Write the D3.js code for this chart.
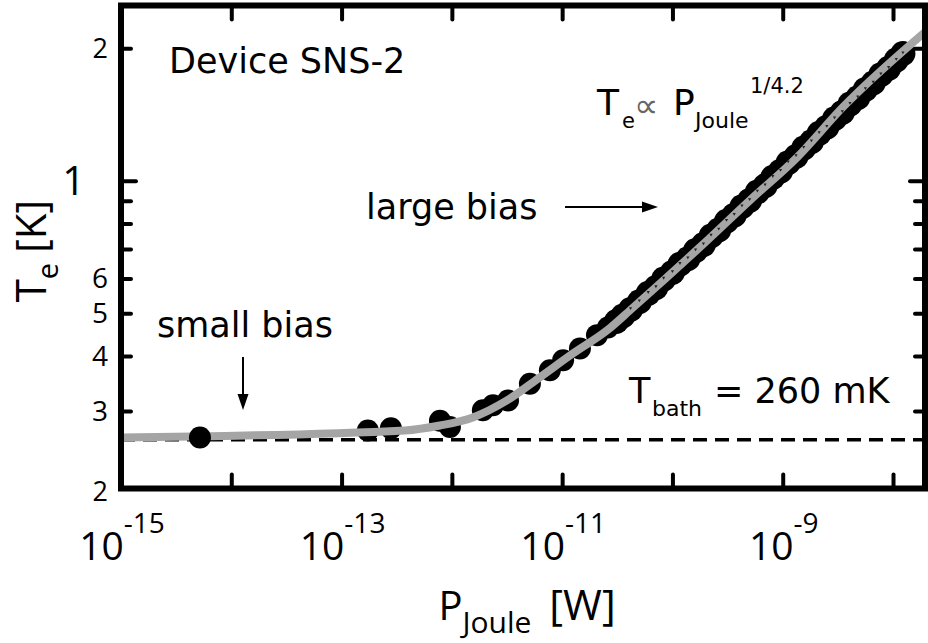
<!DOCTYPE html>
<html>
<head>
<meta charset="utf-8">
<script src="https://cdn.jsdelivr.net/npm/d3@7"></script>
<style>
  body { margin: 0; background: #fff; }
  svg { display: block; }
</style>
</head>
<body>
<div id="chart"></div>
<script>
const width = 928;
const height = 643;

// small bias point (drawn over the fit)
const lowP = [5.2e-15];
const lowT = [0.261];

// large bias points
const dataP = [1.73e-13, 2.8e-13, 7.8e-13, 9.6e-13, 1.91e-12, 2.36e-12, 3.23e-12, 5.1e-12,
  7.74e-12, 1.02e-11, 1.45e-11, 2.07e-11, 2.6e-11, 3.1e-11,
  3.55e-11, 4.17e-11, 5.01e-11, 6.03e-11, 7.08e-11, 8.32e-11, 1.0e-10, 1.17e-10, 1.38e-10,
  1.62e-10, 1.91e-10, 2.24e-10, 2.63e-10, 3.09e-10, 3.63e-10, 4.27e-10, 5.01e-10, 5.89e-10,
  6.92e-10, 8.13e-10, 9.55e-10, 1.12e-9, 1.32e-9, 1.55e-9, 1.82e-9, 2.14e-9, 2.51e-9,
  2.95e-9, 3.47e-9, 4.07e-9, 4.79e-9, 5.62e-9, 6.61e-9, 7.76e-9, 9.12e-9, 1.07e-8, 1.23e-8];
const dataT = [0.271, 0.274, 0.285, 0.276, 0.301, 0.309, 0.317, 0.346,
  0.371, 0.391, 0.416, 0.446, 0.464, 0.479,
  0.493, 0.510, 0.531, 0.555, 0.572, 0.598, 0.619, 0.646, 0.665,
  0.694, 0.716, 0.749, 0.773, 0.809, 0.835, 0.873, 0.902, 0.943,
  0.974, 1.018, 1.051, 1.099, 1.135, 1.186, 1.226, 1.281, 1.323,
  1.383, 1.429, 1.493, 1.543, 1.612, 1.667, 1.741, 1.800, 1.879, 1.944];

// gray fit curve
const fitP = [1e-15, 3.76e-13, 7.8e-13, 1.55e-12, 3.16e-12, 6.3e-12, 1.25e-11, 2.55e-11,
  4.39e-11, 1.77e-10, 5.05e-10, 1.35e-9, 3.52e-9, 2.05e-8];
const fitT = [0.261, 0.271, 0.278, 0.290, 0.317, 0.358, 0.405, 0.457,
  0.515, 0.706, 0.903, 1.13, 1.47, 2.20];

const tBath = 0.26;

const xTicks = [1e-15, 1e-14, 1e-13, 1e-12, 1e-11, 1e-10, 1e-9, 1e-8];
const xLabelExp = [-15, -13, -11, -9];
const yTicks = [0.2, 0.3, 0.4, 0.5, 0.6, 0.7, 0.8, 0.9, 1, 2];
const yLabels = [
  { v: 0.2, t: "2", size: 27 },
  { v: 0.3, t: "3", size: 28 },
  { v: 0.4, t: "4", size: 28 },
  { v: 0.5, t: "5", size: 28 },
  { v: 0.6, t: "6", size: 28 },
  { v: 1, t: "1", size: 40 },
  { v: 2, t: "2", size: 27 }
];

const mLeft = 121, mRight = 925, mTop = 5.5, mBottom = 488.5;

const x = d3.scaleLog().domain([1e-15, 1.95e-8]).range([mLeft, mRight]);
const y = d3.scaleLog().domain([0.2, 2.5]).range([mBottom, mTop]);

const svg = d3.select("#chart").append("svg")
  .attr("width", width)
  .attr("height", height);

const tickFont = "'Open Sans', sans-serif";
const noteFont = "'DejaVu Sans', Verdana, sans-serif";

// bath temperature
svg.append("line")
  .attr("x1", mLeft).attr("x2", mRight)
  .attr("y1", y(tBath) + 1.5).attr("y2", y(tBath) + 1.5)
  .attr("stroke", "#000")
  .attr("stroke-width", 3.5)
  .attr("stroke-dasharray", "14,8");

// data circles
svg.append("g")
  .selectAll("circle")
  .data(d3.zip(dataP, dataT))
  .join("circle")
  .attr("cx", d => x(d[0]))
  .attr("cy", d => y(d[1]))
  .attr("r", d => d[0] > 3e-11 ? 12.5 : 11)
  .attr("fill", "#000");

// fit line
const line = d3.line()
  .x(d => x(d[0]))
  .y(d => y(d[1]))
  .curve(d3.curveMonotoneX);

svg.append("path")
  .datum(d3.zip(fitP, fitT))
  .attr("d", line)
  .attr("fill", "none")
  .attr("stroke", "#a5a5a5")
  .attr("stroke-width", 8);

// tiny markers riding on the fit
svg.append("g")
  .selectAll("path")
  .data(d3.zip(dataP, dataT).filter(d => d[0] > 4e-11))
  .join("path")
  .attr("transform", d => `translate(${x(d[0])},${y(d[1]) - 1})`)
  .attr("d", "M-1.6,-1.2L1.6,-1.2L0,1.6Z")
  .attr("fill", "#222");

svg.append("g")
  .selectAll("circle")
  .data(d3.zip(lowP, lowT))
  .join("circle")
  .attr("cx", d => x(d[0]))
  .attr("cy", d => y(d[1]))
  .attr("r", 11)
  .attr("fill", "#000");

// axes (ticks point inward)
const tickStyle = g => {
  g.select(".domain").remove();
  g.selectAll("line")
    .attr("stroke", "#000")
    .attr("stroke-width", 4)
    .attr("stroke-linecap", "round");
  g.selectAll("text").remove();
};

svg.append("g")
  .attr("transform", `translate(0,${mBottom})`)
  .call(d3.axisBottom(x).tickValues(xTicks).tickSize(-14).tickFormat(""))
  .call(tickStyle);
svg.append("g")
  .attr("transform", `translate(0,${mTop})`)
  .call(d3.axisTop(x).tickValues(xTicks).tickSize(-14).tickFormat(""))
  .call(tickStyle);
svg.append("g")
  .attr("transform", `translate(${mLeft},0)`)
  .call(d3.axisLeft(y).tickValues(yTicks).tickSize(-10).tickFormat(""))
  .call(tickStyle)
  .selectAll(".tick line").attr("x2", d => d === 1 ? 15 : 10);
svg.append("g")
  .attr("transform", `translate(${mRight},0)`)
  .call(d3.axisRight(y).tickValues(yTicks).tickSize(-10).tickFormat(""))
  .call(tickStyle)
  .selectAll(".tick line").attr("x2", d => d === 1 ? -15 : -10);

// frame
svg.append("rect")
  .attr("x", mLeft).attr("y", mTop)
  .attr("width", mRight - mLeft).attr("height", mBottom - mTop)
  .attr("fill", "none")
  .attr("stroke", "#000")
  .attr("stroke-width", 6);

// x tick labels
const xl = svg.append("g").attr("font-family", tickFont).attr("fill", "#000");
xLabelExp.forEach(e => {
  const t = xl.append("text")
    .attr("x", x(Math.pow(10, e)) + 1)
    .attr("y", 560)
    .attr("text-anchor", "middle");
  t.append("tspan").attr("font-size", 39).text("10");
  t.append("tspan").attr("font-size", 28).attr("dy", -27).text(e);
});

// y tick labels
svg.append("g")
  .attr("font-family", tickFont)
  .selectAll("text")
  .data(yLabels)
  .join("text")
  .attr("x", d => d.v === 1 ? 85 : 108)
  .attr("y", d => y(d.v) + (d.v === 0.2 ? 3 : 0))
  .attr("dy", "0.36em")
  .attr("text-anchor", "end")
  .attr("font-size", d => d.size)
  .text(d => d.t);

// axis titles
const xt = svg.append("text")
  .attr("x", 527).attr("y", 620)
  .attr("text-anchor", "middle")
  .attr("font-family", tickFont)
  .attr("font-size", 40);
xt.append("tspan").text("P");
xt.append("tspan").attr("font-size", 30).attr("dy", 13).text("Joule");
xt.append("tspan").attr("dy", -13).attr("dx", 18).attr("font-size", 42).text("[W]");

const yt = svg.append("text")
  .attr("transform", "translate(46,251) rotate(-90)")
  .attr("text-anchor", "middle")
  .attr("font-family", tickFont)
  .attr("font-size", 42);
yt.append("tspan").text("T");
yt.append("tspan").attr("font-size", 29).attr("dy", 12).text("e");
yt.append("tspan").attr("dy", -12).attr("dx", 10).text("[K]");

// annotations
const note = svg.append("g").attr("font-family", noteFont).attr("fill", "#000");
note.append("text").attr("x", 169).attr("y", 73).attr("font-size", 35).text("Device SNS-2");
note.append("text").attr("x", 366).attr("y", 219).attr("font-size", 35).text("large bias");
note.append("text").attr("x", 157).attr("y", 337).attr("font-size", 35).text("small bias");

note.append("text").attr("x", 597).attr("y", 115).attr("font-size", 36).text("T");
note.append("text").attr("x", 622).attr("y", 128).attr("font-size", 21).text("e");
note.append("text").attr("x", 634).attr("y", 117).attr("font-size", 34).attr("fill", "#666").text("\u221d");
note.append("text").attr("x", 673).attr("y", 115).attr("font-size", 36).text("P");
note.append("text").attr("x", 695).attr("y", 128).attr("font-size", 22).text("Joule");
note.append("text").attr("x", 750).attr("y", 93).attr("font-size", 21).text("1/4.2");

note.append("text").attr("x", 629).attr("y", 403).attr("font-size", 35).text("T");
note.append("text").attr("x", 652).attr("y", 416).attr("font-size", 22).text("bath");
note.append("text").attr("x", 714).attr("y", 403).attr("font-size", 35).text("= 260 mK");

// arrows
const arrows = svg.append("g").attr("stroke", "#000").attr("fill", "#000");
arrows.append("line").attr("x1", 565).attr("y1", 207).attr("x2", 645).attr("y2", 207).attr("stroke-width", 2);
arrows.append("path").attr("d", "M658,207L642,201.5L642,212.5Z").attr("stroke", "none");
arrows.append("line").attr("x1", 243).attr("y1", 357).attr("x2", 243).attr("y2", 398).attr("stroke-width", 2);
arrows.append("path").attr("d", "M243,410L237.5,394L248.5,394Z").attr("stroke", "none");
</script>
</body>
</html>
